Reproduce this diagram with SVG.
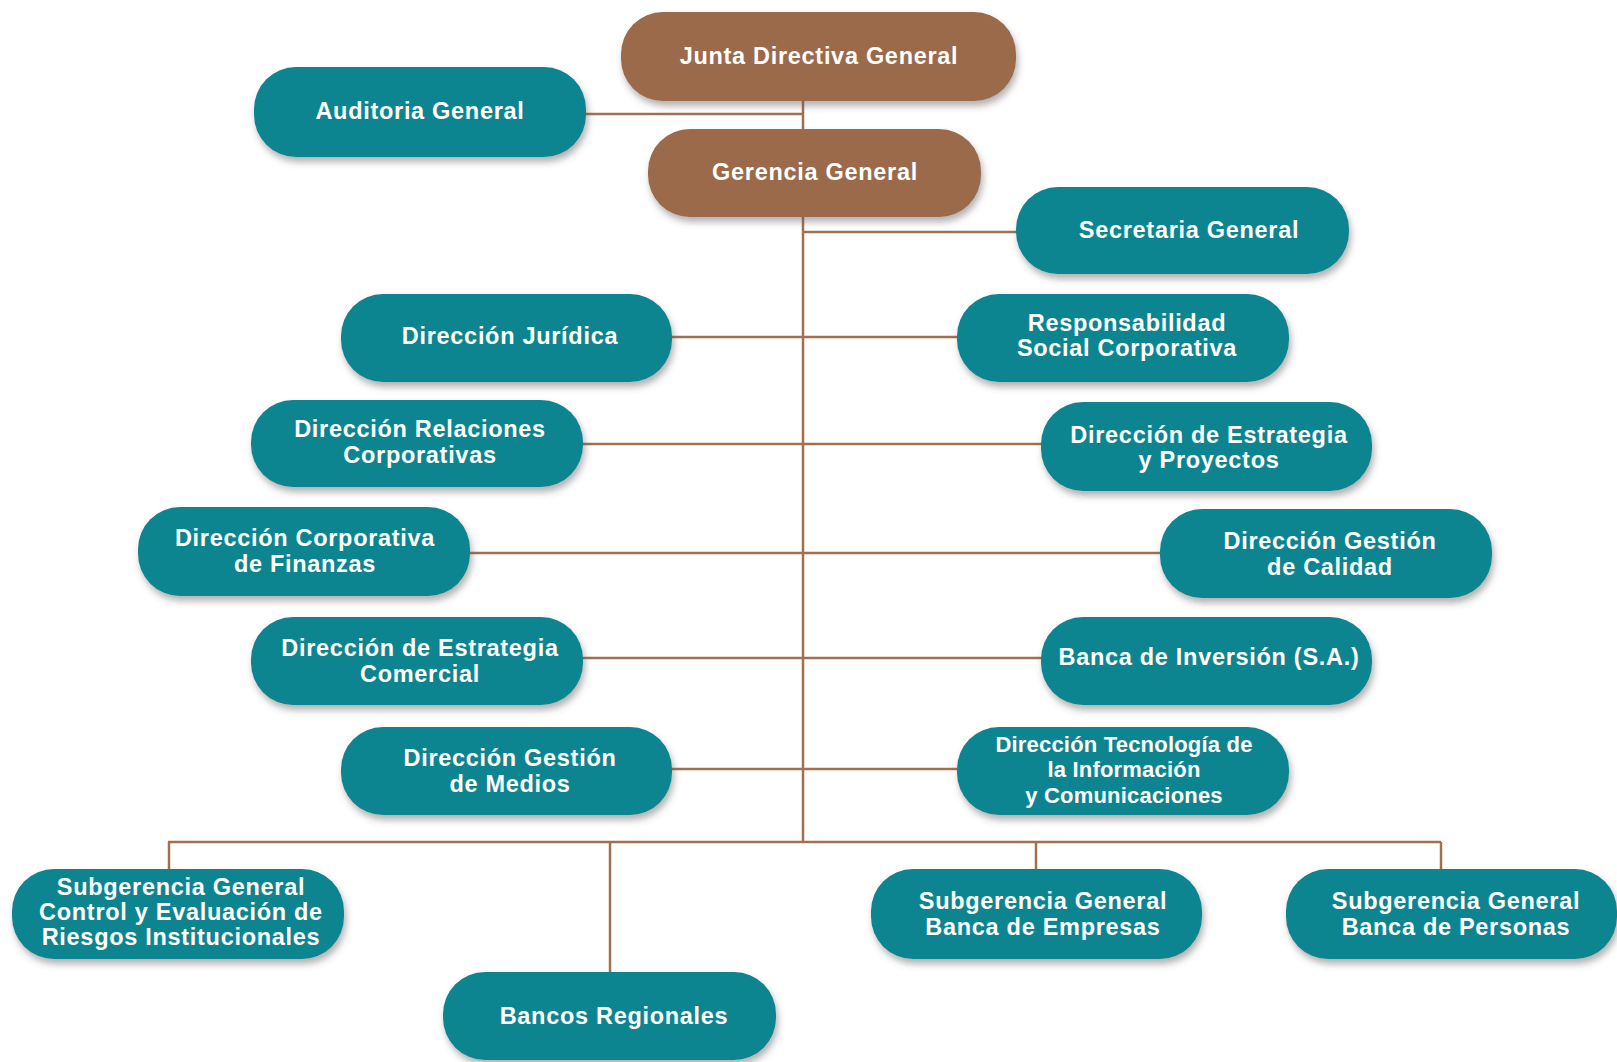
<svg xmlns="http://www.w3.org/2000/svg" width="1617" height="1062" viewBox="0 0 1617 1062">
<defs>
<filter id="sh" x="-10%" y="-20%" width="120%" height="150%">
<feDropShadow dx="2" dy="5" stdDeviation="3.5" flood-color="#555" flood-opacity="0.45"/>
</filter>
<style>
.t rect{fill:#0f8590;filter:url(#sh)}
.b rect{fill:#9a6a4b;filter:url(#sh)}
text{font-family:"Liberation Sans",Arial,sans-serif;font-weight:bold;font-size:23.5px;letter-spacing:0.7px;fill:#fff;text-anchor:middle}
.sm text{font-size:22px;letter-spacing:0.2px}
.c line{stroke:#a0704f;stroke-width:2.5}
</style>
</defs>
<rect width="1617" height="1062" fill="#fff"/>
<g class="c" id="connectors">
<line x1="803" y1="100" x2="803" y2="842"/>
<line x1="584" y1="114" x2="803" y2="114"/>
<line x1="803" y1="232" x2="1018" y2="232"/>
<line x1="670" y1="337" x2="959" y2="337"/>
<line x1="581" y1="444" x2="1043" y2="444"/>
<line x1="468" y1="553" x2="1162" y2="553"/>
<line x1="581" y1="658" x2="1043" y2="658"/>
<line x1="670" y1="769" x2="959" y2="769"/>
<line x1="168" y1="842" x2="1441" y2="842"/>
<line x1="169" y1="842" x2="169" y2="871"/>
<line x1="610" y1="842" x2="610" y2="974"/>
<line x1="1036" y1="842" x2="1036" y2="871"/>
<line x1="1441" y1="842" x2="1441" y2="871"/>
</g>
<g id="junta" class="b"><rect x="621" y="12" width="395" height="89" rx="42"/><text x="819" y="64">Junta Directiva General</text></g>
<g id="auditoria" class="t"><rect x="254" y="67" width="332" height="90" rx="42"/><text x="420" y="119">Auditoria General</text></g>
<g id="gerencia" class="b"><rect x="648" y="129" width="333" height="88" rx="42"/><text x="815" y="180">Gerencia General</text></g>
<g id="secretaria" class="t"><rect x="1016" y="187" width="333" height="87" rx="42"/><text x="1189" y="238">Secretaria General</text></g>
<g id="juridica" class="t"><rect x="341" y="294" width="331" height="88" rx="42"/><text x="510" y="344">Dirección Jurídica</text></g>
<g id="responsabilidad" class="t"><rect x="957" y="294" width="332" height="88" rx="42"/><text x="1127" y="331">Responsabilidad</text><text x="1127" y="356">Social Corporativa</text></g>
<g id="relaciones" class="t"><rect x="251" y="400" width="332" height="87" rx="42"/><text x="420" y="437">Dirección Relaciones</text><text x="420" y="463">Corporativas</text></g>
<g id="estrategia-proyectos" class="t"><rect x="1041" y="402" width="331" height="89" rx="42"/><text x="1209" y="443">Dirección de Estrategia</text><text x="1209" y="468">y Proyectos</text></g>
<g id="finanzas" class="t"><rect x="138" y="507" width="332" height="89" rx="42"/><text x="305" y="546">Dirección Corporativa</text><text x="305" y="572">de Finanzas</text></g>
<g id="calidad" class="t"><rect x="1160" y="509" width="332" height="89" rx="42"/><text x="1330" y="549">Dirección Gestión</text><text x="1330" y="575">de Calidad</text></g>
<g id="estrategia-comercial" class="t"><rect x="251" y="617" width="332" height="88" rx="42"/><text x="420" y="656">Dirección de Estrategia</text><text x="420" y="682">Comercial</text></g>
<g id="inversion" class="t"><rect x="1041" y="617" width="331" height="88" rx="42"/><text x="1209" y="665">Banca de Inversión (S.A.)</text></g>
<g id="medios" class="t"><rect x="341" y="727" width="331" height="88" rx="42"/><text x="510" y="766">Dirección Gestión</text><text x="510" y="792">de Medios</text></g>
<g id="tecnologia" class="t sm"><rect x="957" y="727" width="332" height="88" rx="42"/><text x="1124" y="752">Dirección Tecnología de</text><text x="1124" y="777">la Información</text><text x="1124" y="803">y Comunicaciones</text></g>
<g id="control" class="t"><rect x="12" y="869" width="332" height="90" rx="42"/><text x="181" y="895">Subgerencia General</text><text x="181" y="920">Control y Evaluación de</text><text x="181" y="945">Riesgos Institucionales</text></g>
<g id="bancos-regionales" class="t"><rect x="443" y="972" width="333" height="88" rx="42"/><text x="614" y="1024">Bancos Regionales</text></g>
<g id="empresas" class="t"><rect x="871" y="869" width="331" height="90" rx="42"/><text x="1043" y="909">Subgerencia General</text><text x="1043" y="935">Banca de Empresas</text></g>
<g id="personas" class="t"><rect x="1286" y="869" width="331" height="90" rx="42"/><text x="1456" y="909">Subgerencia General</text><text x="1456" y="935">Banca de Personas</text></g>
</svg>
